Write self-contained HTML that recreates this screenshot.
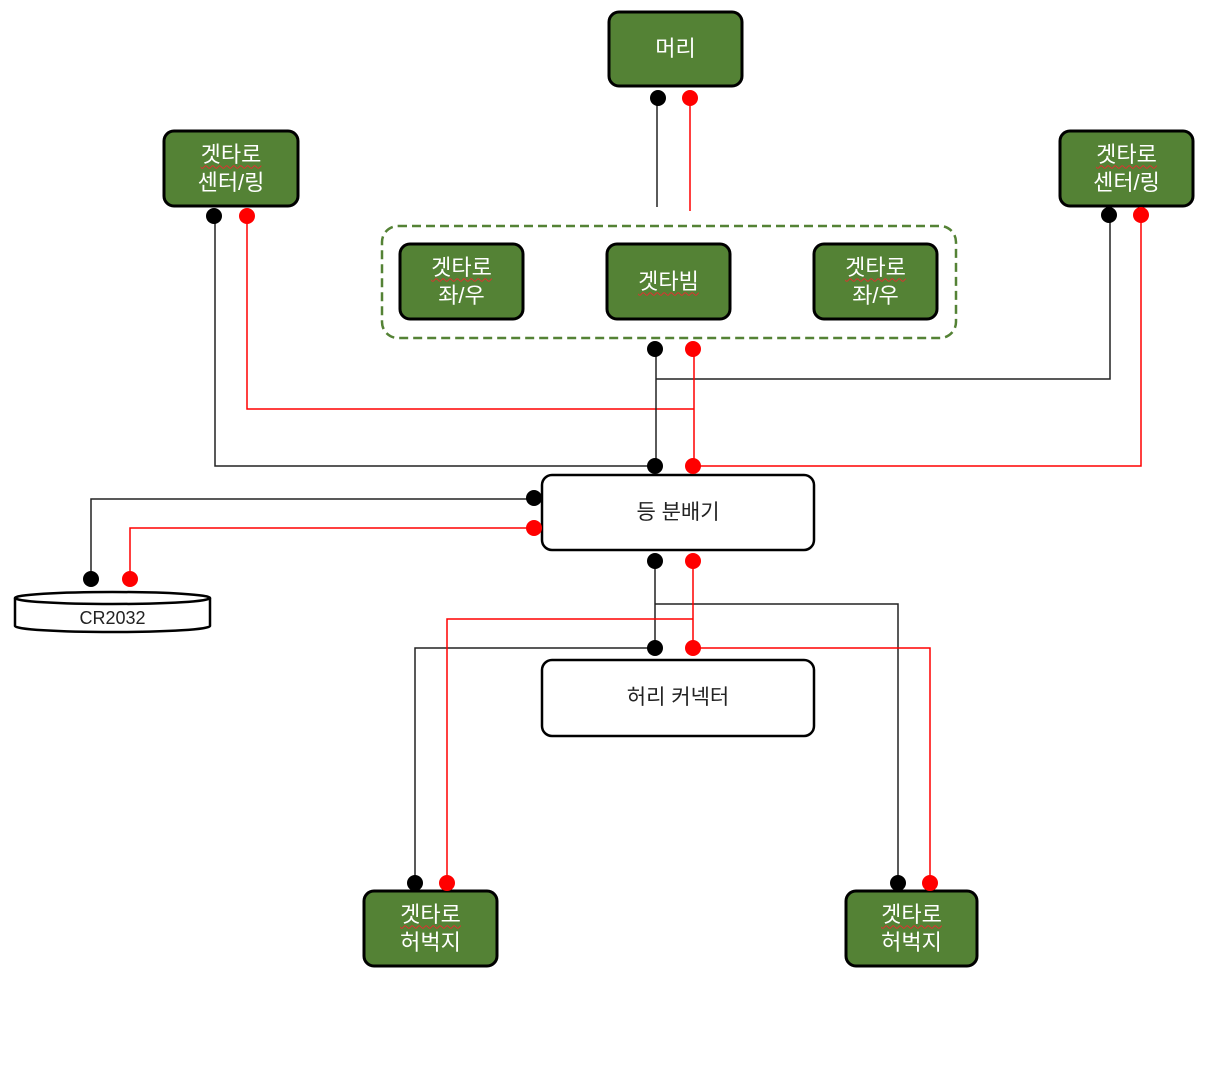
<!DOCTYPE html>
<html><head><meta charset="utf-8"><style>
body{margin:0;background:#fff;}
#c{position:relative;width:1208px;height:1078px;overflow:hidden;}
svg{position:absolute;left:0;top:0;}
.t{position:absolute;display:flex;align-items:center;justify-content:center;text-align:center;font-family:"Liberation Sans","Noto Sans CJK KR",sans-serif;font-size:22px;line-height:28px;color:#fff;}
.k{color:#222;font-size:21px;}
.w{text-decoration:underline wavy #e03030;text-decoration-thickness:1px;text-underline-offset:3px;}
</style></head><body><div id="c">
<svg width="1208" height="1078">
<g fill="none" stroke-width="1.5">
<path d="M657 98V207" stroke="#222"/>
<path d="M690 98V211" stroke="#f00"/>
<path d="M215 216V466H655" stroke="#222"/>
<path d="M247 216V409H694" stroke="#f00"/>
<path d="M1110 215V379H656" stroke="#222"/>
<path d="M1141 215V466H694" stroke="#f00"/>
<path d="M656 349V466" stroke="#222"/>
<path d="M694 349V466" stroke="#f00"/>
<path d="M534 499H91V579" stroke="#222"/>
<path d="M534 528H130V579" stroke="#f00"/>
<path d="M655 561V648M655 604H898V883M655 648H415V883" stroke="#222"/>
<path d="M693 561V648M693 619H447V883M693 648H930V883" stroke="#f00"/>
</g>
<rect x="382" y="226" width="574" height="112" rx="16" fill="none" stroke="#548235" stroke-width="2.5" stroke-dasharray="9,5"/>
<g fill="#548235" stroke="#000" stroke-width="3">
<rect x="609" y="12" width="133" height="74" rx="10"/>
<rect x="164" y="131" width="134" height="75" rx="10"/>
<rect x="1060" y="131" width="133" height="75" rx="10"/>
<rect x="400" y="244" width="123" height="75" rx="10"/>
<rect x="607" y="244" width="123" height="75" rx="10"/>
<rect x="814" y="244" width="123" height="75" rx="10"/>
<rect x="364" y="891" width="133" height="75" rx="10"/>
<rect x="846" y="891" width="131" height="75" rx="10"/>
</g>
<g fill="#fff" stroke="#000" stroke-width="2.5">
<rect x="542" y="475" width="272" height="75" rx="10"/>
<rect x="542" y="660" width="272" height="76" rx="10"/>
<path d="M15 598V626A97 6 0 0 0 210 626V598"/>
<ellipse cx="112.5" cy="598" rx="97.5" ry="6"/>
</g>
<g fill="#000">
<circle cx="658" cy="98" r="8"/><circle cx="214" cy="216" r="8"/><circle cx="1109" cy="215" r="8"/>
<circle cx="655" cy="349" r="8"/><circle cx="655" cy="466" r="8"/><circle cx="534" cy="498" r="8"/>
<circle cx="91" cy="579" r="8"/><circle cx="655" cy="561" r="8"/><circle cx="655" cy="648" r="8"/>
<circle cx="415" cy="883" r="8"/><circle cx="898" cy="883" r="8"/>
</g>
<g fill="#f00">
<circle cx="690" cy="98" r="8"/><circle cx="247" cy="216" r="8"/><circle cx="1141" cy="215" r="8"/>
<circle cx="693" cy="349" r="8"/><circle cx="693" cy="466" r="8"/><circle cx="534" cy="528" r="8"/>
<circle cx="130" cy="579" r="8"/><circle cx="693" cy="561" r="8"/><circle cx="693" cy="648" r="8"/>
<circle cx="447" cy="883" r="8"/><circle cx="930" cy="883" r="8"/>
</g>
</svg>
<div class="t" style="left:609px;top:12px;width:133px;height:74px;">머리</div>
<div class="t" style="left:164px;top:131px;width:134px;height:75px;"><div><span class="w">겟타로</span><br>센터/링</div></div>
<div class="t" style="left:1060px;top:131px;width:133px;height:75px;"><div><span class="w">겟타로</span><br>센터/링</div></div>
<div class="t" style="left:400px;top:244px;width:123px;height:75px;"><div><span class="w">겟타로</span><br>좌/우</div></div>
<div class="t" style="left:607px;top:244px;width:123px;height:75px;"><span class="w">겟타빔</span></div>
<div class="t" style="left:814px;top:244px;width:123px;height:75px;"><div><span class="w">겟타로</span><br>좌/우</div></div>
<div class="t" style="left:364px;top:891px;width:133px;height:75px;"><div><span class="w">겟타로</span><br>허벅지</div></div>
<div class="t" style="left:846px;top:891px;width:131px;height:75px;"><div><span class="w">겟타로</span><br>허벅지</div></div>
<div class="t k" style="left:542px;top:475px;width:272px;height:75px;">등 분배기</div>
<div class="t k" style="left:542px;top:660px;width:272px;height:76px;">허리 커넥터</div>
<div class="t k" style="left:15px;top:604px;width:195px;height:28px;font-size:18px;">CR2032</div>
</div></body></html>
